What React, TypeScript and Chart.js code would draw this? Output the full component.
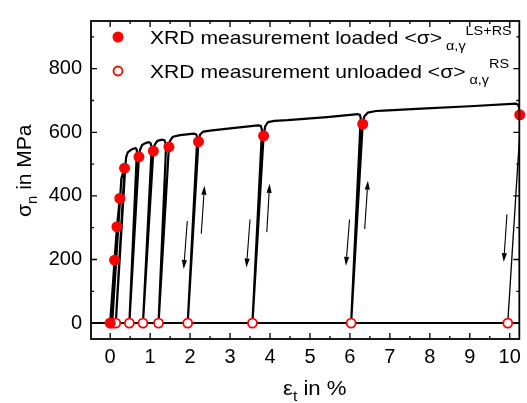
import React, { useEffect, useRef } from "react";
import { Chart, registerables } from "chart.js";

Chart.register(...registerables);

// Axis ranges and tick labels
const X_MIN = -0.48;
const X_MAX = 10.24;
const Y_MIN = -50;
const Y_MAX = 950;
const xTickValues = [0, 1, 2, 3, 4, 5, 6, 7, 8, 9, 10];
const yTickValues = [0, 200, 400, 600, 800];
const xMinorTicks = [0.5, 1.5, 2.5, 3.5, 4.5, 5.5, 6.5, 7.5, 8.5, 9.5];
const yMinorTicks = [100, 300, 500, 700, 900];

// XRD measurements (strain %, stress MPa)
const loadedStrain = [0, 0.11, 0.17, 0.24, 0.36, 0.72, 1.08, 1.47, 2.21, 3.84, 6.32, 10.25];
const loadedStress = [0, 198, 303, 392, 487, 523, 541, 554, 571, 589, 626, 655];
const unloadedStrain = [0.05, 0.14, 0.48, 0.82, 1.21, 1.94, 3.56, 6.03, 9.95];
const unloadedStress = [0, 0, 0, 0, 0, 0, 0, 0, 0];

// Stress-strain path (strain %, stress MPa)
const initialLoading: [number, number][] = [
  [0, 0], [0.11, 198], [0.17, 303], [0.24, 392], [0.05, 0],
  [0.28, 455], [0.36, 487], [0.14, 0],
];
const cycle1: [number, number][] = [
  [0.38, 495], [0.4, 522], [0.44, 537], [0.52, 545], [0.6, 549], [0.64, 550], [0.67, 544], [0.48, 0],
];
const cycle2: [number, number][] = [
  [0.72, 523], [0.75, 546], [0.8, 560], [0.88, 566], [0.97, 569], [1.01, 566], [1.04, 552], [0.82, 0],
];
const cycle3: [number, number][] = [
  [1.08, 541], [1.11, 560], [1.18, 573], [1.3, 577], [1.36, 575], [1.4, 560], [1.21, 0],
];
const cycle4: [number, number][] = [
  [1.47, 554], [1.5, 574], [1.57, 586], [1.75, 591], [2.09, 596], [2.15, 594], [2.18, 584], [1.94, 0],
];
const cycle5: [number, number][] = [
  [2.21, 571], [2.25, 593], [2.33, 602], [2.55, 606], [3.12, 614], [3.7, 622], [3.77, 620], [3.8, 607], [3.56, 0],
];
const cycle6: [number, number][] = [
  [3.84, 589], [3.88, 619], [3.95, 632], [4.11, 636], [4.44, 638], [5.43, 648], [6.2, 657], [6.25, 655], [6.27, 645], [6.03, 0],
];
const cycle7: [number, number][] = [
  [6.32, 626], [6.36, 650], [6.45, 662], [6.65, 667], [6.84, 668], [7.91, 675], [9.0, 682], [10.16, 690], [10.21, 686], [10.25, 672], [10.28, 655],
];
const finalUnloading: [number, number][] = [[10.28, 655], [9.95, 0]];
const zeroLine: [number, number][] = [[X_MIN, 0], [X_MAX, 0]];

// Arrows (from -> to, strain %, stress MPa)
const arrowFrom: [number, number][] = [
  [1.93, 321], [2.28, 281], [3.5, 326], [3.92, 286], [5.99, 326], [6.37, 296], [9.93, 342],
];
const arrowTo: [number, number][] = [
  [1.84, 170], [2.36, 432], [3.41, 175], [3.99, 438], [5.9, 180], [6.45, 448], [9.85, 192],
];

const FONT = '"Liberation Sans", Arial, sans-serif';
const SX = 1.11;
const RED = "#ff0000";

function drawText(
  ctx: CanvasRenderingContext2D,
  text: string,
  x: number,
  y: number,
  size: number,
  sx = SX
): number {
  ctx.save();
  ctx.translate(x, y);
  ctx.scale(sx, 1);
  ctx.font = `${size}px ${FONT}`;
  ctx.textAlign = "left";
  ctx.textBaseline = "alphabetic";
  ctx.fillStyle = "#000";
  ctx.fillText(text, 0, 0);
  const w = ctx.measureText(text).width * sx;
  ctx.restore();
  return w;
}

const decorPlugin = {
  id: "decor",
  afterDraw(chart: any) {
    const ctx: CanvasRenderingContext2D = chart.ctx;
    const { left, right, top, bottom } = chart.chartArea;
    const xs = chart.scales.x;
    const ys = chart.scales.y;
    ctx.save();
    // frame
    ctx.strokeStyle = "#000";
    ctx.lineWidth = 1.8;
    ctx.strokeRect(left, top, right - left, bottom - top);
    // ticks (inward, all sides)
    ctx.lineWidth = 1.3;
    const tickX = (v: number, len: number) => {
      const p = xs.getPixelForValue(v);
      ctx.beginPath();
      ctx.moveTo(p, bottom);
      ctx.lineTo(p, bottom - len);
      ctx.moveTo(p, top);
      ctx.lineTo(p, top + len);
      ctx.stroke();
    };
    const tickY = (v: number, len: number) => {
      const p = ys.getPixelForValue(v);
      ctx.beginPath();
      ctx.moveTo(left, p);
      ctx.lineTo(left + len, p);
      ctx.moveTo(right, p);
      ctx.lineTo(right - len, p);
      ctx.stroke();
    };
    xTickValues.forEach((v) => tickX(v, 6));
    xMinorTicks.forEach((v) => tickX(v, 3));
    yTickValues.forEach((v) => tickY(v, 6));
    yMinorTicks.forEach((v) => tickY(v, 3));

    // arrows
    ctx.lineWidth = 1.1;
    ctx.fillStyle = "#000";
    arrowFrom.forEach((f, i) => {
      const t = arrowTo[i];
      const x0 = xs.getPixelForValue(f[0]);
      const y0 = ys.getPixelForValue(f[1]);
      const x1 = xs.getPixelForValue(t[0]);
      const y1 = ys.getPixelForValue(t[1]);
      const ang = Math.atan2(y1 - y0, x1 - x0);
      const hl = 9;
      const hw = 2.6;
      const bx = x1 - hl * Math.cos(ang);
      const by = y1 - hl * Math.sin(ang);
      ctx.beginPath();
      ctx.moveTo(x0, y0);
      ctx.lineTo(bx, by);
      ctx.stroke();
      ctx.beginPath();
      ctx.moveTo(x1, y1);
      ctx.lineTo(bx + hw * Math.sin(ang), by - hw * Math.cos(ang));
      ctx.lineTo(bx - hw * Math.sin(ang), by + hw * Math.cos(ang));
      ctx.closePath();
      ctx.fill();
    });

    // legend
    ctx.fillStyle = RED;
    ctx.beginPath();
    ctx.arc(118, 37, 5.5, 0, Math.PI * 2);
    ctx.fill();
    ctx.fillStyle = "#fff";
    ctx.strokeStyle = RED;
    ctx.lineWidth = 1.8;
    ctx.beginPath();
    ctx.arc(118, 71, 4.5, 0, Math.PI * 2);
    ctx.fill();
    ctx.stroke();

    let x = 150;
    x += drawText(ctx, "XRD measurement loaded <σ>", x, 44, 19);
    x += 4;
    const w1 = drawText(ctx, "α,γ", x, 50, 13);
    drawText(ctx, "LS+RS", x + w1, 35, 13);

    x = 150;
    x += drawText(ctx, "XRD measurement unloaded <σ>", x, 78, 19);
    x += 4;
    const w2 = drawText(ctx, "α,γ", x, 84, 13);
    drawText(ctx, "RS", x + w2, 68, 13);

    // x title
    x = 283;
    x += drawText(ctx, "ε", x, 395, 20);
    x += drawText(ctx, "t", x, 401, 14);
    drawText(ctx, " in %", x, 395, 20);

    // y title (rotated)
    ctx.save();
    ctx.translate(31, 217);
    ctx.rotate(-Math.PI / 2);
    let yx = 0;
    yx += drawText(ctx, "σ", yx, 0, 21, 1);
    yx += drawText(ctx, "n", yx, 6, 15, 1);
    drawText(ctx, " in MPa", yx, 0, 21, 1);
    ctx.restore();

    ctx.restore();
  },
};

const toXY = (pts: [number, number][]) => pts.map(([x, y]) => ({ x, y }));

export default function App() {
  const canvasRef = useRef<HTMLCanvasElement | null>(null);

  useEffect(() => {
    if (!canvasRef.current) return;
    const path = [
      ...initialLoading,
      ...cycle1,
      ...cycle2,
      ...cycle3,
      ...cycle4,
      ...cycle5,
      ...cycle6,
      ...cycle7,
    ];
    const chart = new Chart(canvasRef.current, {
      type: "scatter",
      data: {
        datasets: [
          {
            label: "XRD measurement loaded",
            data: loadedStrain.map((x, i) => ({ x, y: loadedStress[i] })),
            pointRadius: 5.5,
            pointBackgroundColor: RED,
            pointBorderWidth: 0,
            pointBorderColor: RED,
            showLine: false,
            clip: false as any,
            order: 0,
          },
          {
            label: "XRD measurement unloaded",
            data: unloadedStrain.map((x, i) => ({ x, y: unloadedStress[i] })),
            pointRadius: 4.5,
            pointBackgroundColor: "#fff",
            pointBorderColor: RED,
            pointBorderWidth: 1.8,
            showLine: false,
            clip: false as any,
            order: 0,
          },
          {
            label: "curve",
            data: toXY(path),
            showLine: true,
            borderColor: "#000",
            borderWidth: 2.2,
            pointRadius: 0,
            tension: 0,
            borderJoinStyle: "round",
            order: 1,
          },
          {
            label: "final unloading",
            data: toXY(finalUnloading),
            showLine: true,
            borderColor: "#000",
            borderWidth: 1.3,
            pointRadius: 0,
            order: 1,
          },
          {
            label: "zero",
            data: toXY(zeroLine),
            showLine: true,
            borderColor: "#000",
            borderWidth: 2,
            pointRadius: 0,
            order: 2,
          },
        ],
      },
      options: {
        animation: false,
        responsive: true,
        maintainAspectRatio: false,
        layout: { padding: { left: 0, top: 9, right: 3, bottom: 0 } },
        plugins: {
          legend: { display: false },
          tooltip: { enabled: false },
        },
        scales: {
          x: {
            type: "linear",
            min: X_MIN,
            max: X_MAX,
            grid: { display: false, drawTicks: false },
            border: { display: false },
            ticks: {
              autoSkip: false,
              maxRotation: 0,
              padding: 6,
              color: "#000",
              font: { family: FONT, size: 20 },
            },
            afterBuildTicks: (scale: any) => {
              scale.ticks = xTickValues.map((v) => ({ value: v }));
            },
            afterFit: (scale: any) => {
              scale.height = 64;
            },
          },
          y: {
            type: "linear",
            min: Y_MIN,
            max: Y_MAX,
            grid: { display: false, drawTicks: false },
            border: { display: false },
            ticks: {
              padding: 9,
              color: "#000",
              font: { family: FONT, size: 20 },
            },
            afterBuildTicks: (scale: any) => {
              scale.ticks = yTickValues.map((v) => ({ value: v }));
            },
            afterFit: (scale: any) => {
              scale.width = 91;
            },
          },
        },
      },
      plugins: [decorPlugin],
    });
    return () => chart.destroy();
  }, []);

  return (
    <div style={{ position: "absolute", left: 0, top: 0, width: 527, height: 403, background: "#fff" }}>
      <canvas ref={canvasRef} />
    </div>
  );
}
